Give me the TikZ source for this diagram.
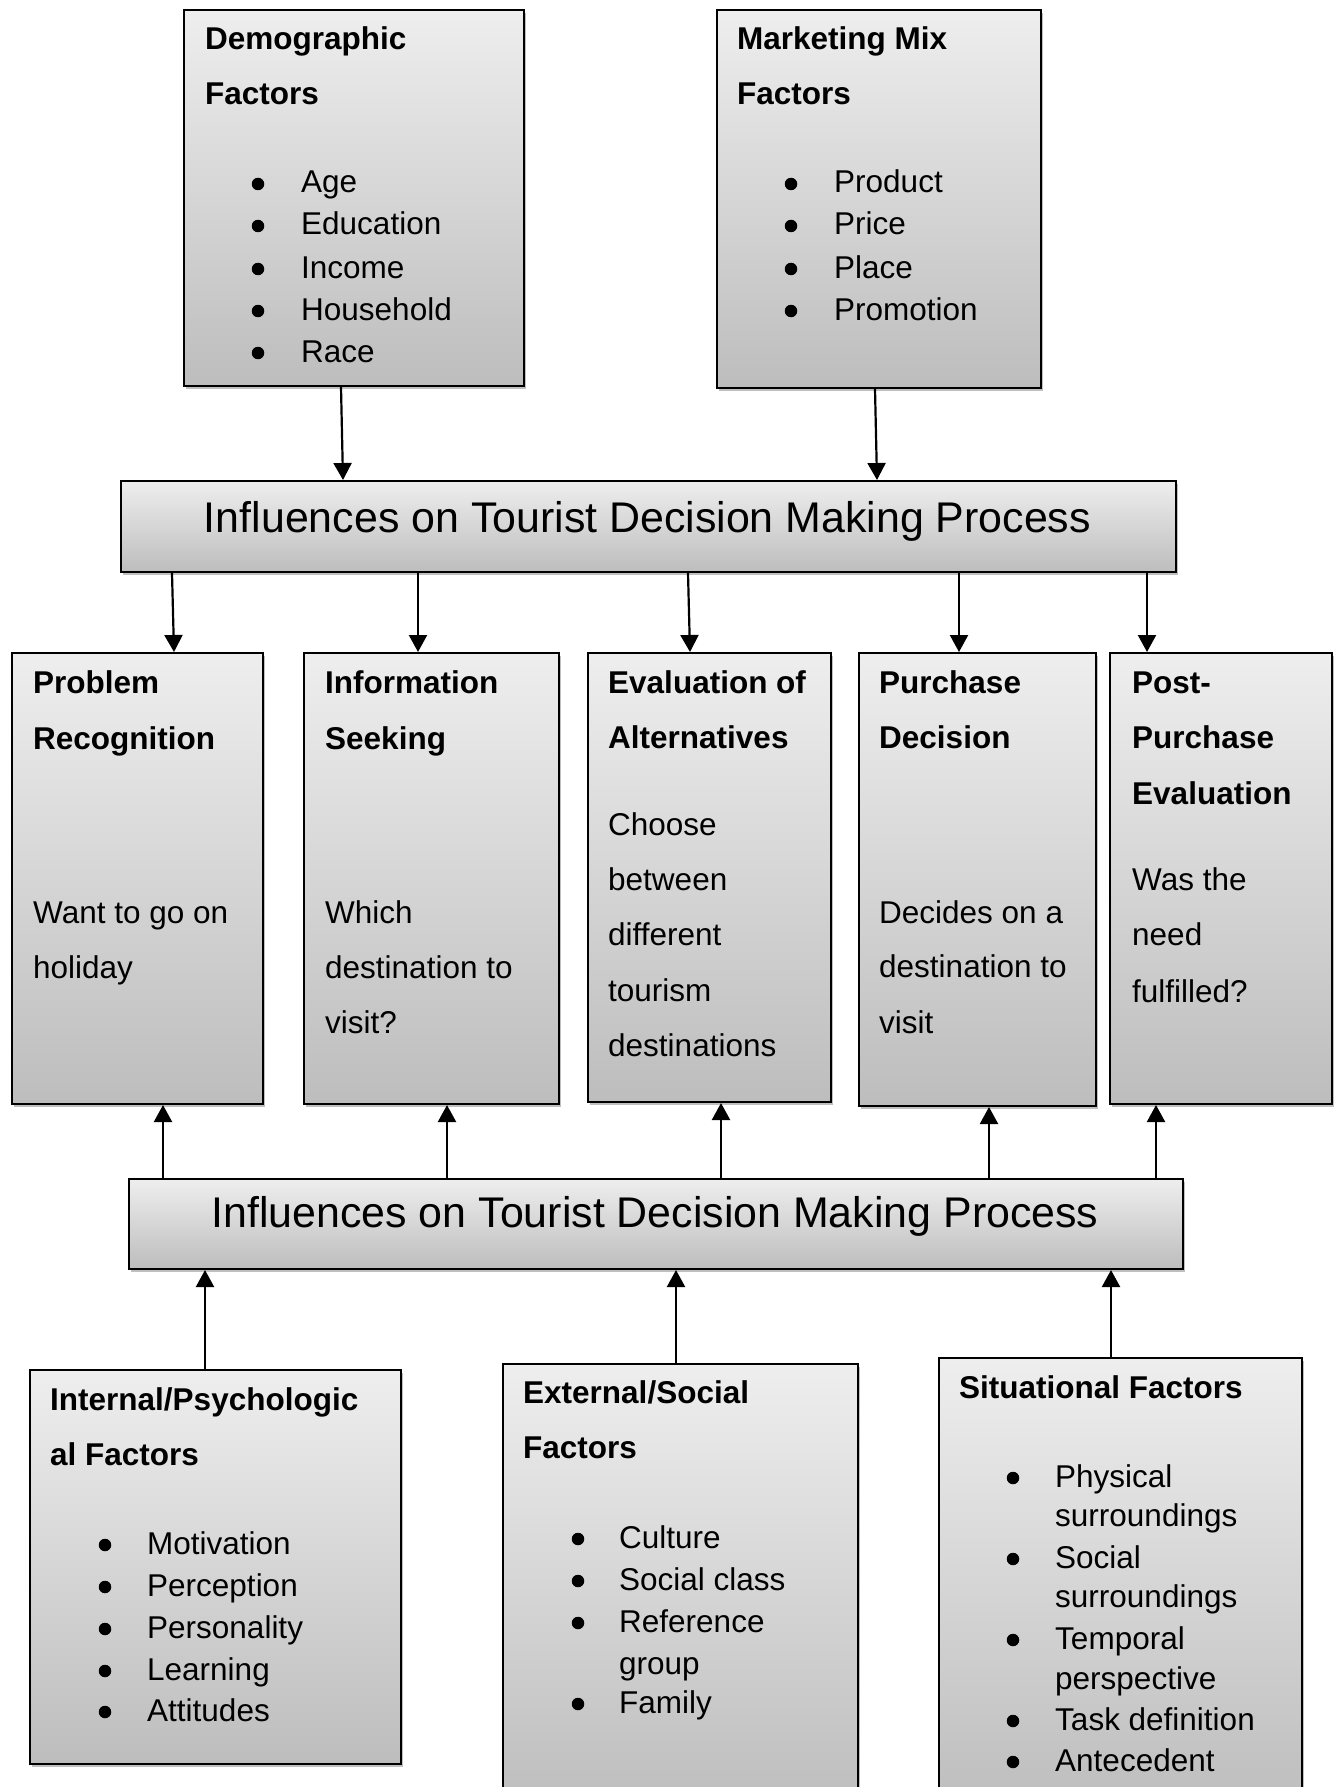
\documentclass[tikz,border=0pt]{standalone}
\usepackage{fontspec}
\setmainfont{Liberation Sans}
\usetikzlibrary{arrows.meta,shadows}

\definecolor{boxtop}{RGB}{238,238,238}
\definecolor{boxbottom}{RGB}{189,189,189}

\tikzset{
  panel/.style={rectangle, draw=black, line width=2pt, inner sep=0pt,
    anchor=north west, top color=boxtop, bottom color=boxbottom,
    drop shadow={shadow xshift=2pt, shadow yshift=-3pt, opacity=0.25, fill=black}},
  txt/.style={anchor=base west, inner sep=0pt, font=\fontsize{31.5}{36}\selectfont},
  head/.style={txt, font=\fontsize{31.5}{36}\selectfont\bfseries},
  dot/.style={circle, fill=black, inner sep=0pt, minimum size=12.5pt},
  title/.style={anchor=base, inner sep=0pt, font=\fontsize{42.9}{48}\selectfont},
  arr/.style={line width=2.2pt, -{Triangle[width=18pt,length=17pt]}}
}

% bullet item: name, bullet x, text x, baseline, text
\newcommand\bulletitem[5]{%
  \node[dot] (#1-dot) at (#2,#4-9) {};
  \node[txt] (#1) at (#3,#4) {#5};
}

\begin{document}
\begin{tikzpicture}[x=1pt,y=-1pt]
  \useasboundingbox (0,0) rectangle (1338,1787);
  \fill[white] (0,0) rectangle (1338,1787);
  \clip (0,0) rectangle (1338,1787);

  % ---------- boxes ----------
  \node[panel, minimum width=340pt, minimum height=376pt] (demo) at (183,9) {};
  \node[panel, minimum width=324pt, minimum height=378pt] (mix) at (716,9) {};
  \node[panel, minimum width=1055pt, minimum height=91pt] (infA) at (120,480) {};

  \node[panel, minimum width=251pt, minimum height=451pt] (pr) at (11,652) {};
  \node[panel, minimum width=255pt, minimum height=451pt] (is) at (303,652) {};
  \node[panel, minimum width=243pt, minimum height=449pt] (ea) at (587,652) {};
  \node[panel, minimum width=237pt, minimum height=453pt] (pd) at (858,652) {};
  \node[panel, minimum width=222pt, minimum height=451pt] (pp) at (1109,652) {};

  \node[panel, minimum width=1054pt, minimum height=90pt] (infB) at (128,1178) {};

  \node[panel, minimum width=371pt, minimum height=394pt] (intl) at (29,1369) {};
  \node[panel, minimum width=355pt, minimum height=446pt] (extl) at (502,1363) {};
  \node[panel, minimum width=363pt, minimum height=452pt] (situ) at (938,1357) {};

  % ---------- connectors ----------
  \draw[arr] (341,0 |- demo.south) -- (343,0 |- infA.north);
  \draw[arr] (875,0 |- mix.south) -- (877,0 |- infA.north);

  \draw[arr] (172,0 |- infA.south) -- (174,0 |- pr.north);
  \draw[arr] (418,0 |- infA.south) -- (418,0 |- is.north);
  \draw[arr] (688,0 |- infA.south) -- (690,0 |- ea.north);
  \draw[arr] (959,0 |- infA.south) -- (959,0 |- pd.north);
  \draw[arr] (1147,0 |- infA.south) -- (1147,0 |- pp.north);

  \draw[arr] (163,0 |- infB.north) -- (163,0 |- pr.south);
  \draw[arr] (447,0 |- infB.north) -- (447,0 |- is.south);
  \draw[arr] (721,0 |- infB.north) -- (721,0 |- ea.south);
  \draw[arr] (989,0 |- infB.north) -- (989,0 |- pd.south);
  \draw[arr] (1156,0 |- infB.north) -- (1156,0 |- pp.south);

  \draw[arr] (205,0 |- intl.north) -- (205,0 |- infB.south);
  \draw[arr] (676,0 |- extl.north) -- (676,0 |- infB.south);
  \draw[arr] (1111,0 |- situ.north) -- (1111,0 |- infB.south);

  % ---------- titles ----------
  \node[title] (infA-text) at (647.5,532) {Influences on Tourist Decision Making Process};
  \node[title] (infB-text) at (655,1227) {Influences on Tourist Decision Making Process};

  % ---------- demographic factors ----------
  \node[head] (demo-h1) at (205,50) {Demographic};
  \node[head] (demo-h2) at (205,105) {Factors};
  \bulletitem{demo-1}{258}{301}{193}{Age}
  \bulletitem{demo-2}{258}{301}{235}{Education}
  \bulletitem{demo-3}{258}{301}{278}{Income}
  \bulletitem{demo-4}{258}{301}{320}{Household}
  \bulletitem{demo-5}{258}{301}{362}{Race}

  % ---------- marketing mix ----------
  \node[head] (mix-h1) at (737,50) {Marketing Mix};
  \node[head] (mix-h2) at (737,105) {Factors};
  \bulletitem{mix-1}{791}{834}{193}{Product}
  \bulletitem{mix-2}{791}{834}{235}{Price}
  \bulletitem{mix-3}{791}{834}{278}{Place}
  \bulletitem{mix-4}{791}{834}{320}{Promotion}

  % ---------- process stages ----------
  \node[head] (pr-h1) at (33,693) {Problem};
  \node[head] (pr-h2) at (33,749) {Recognition};
  \node[txt] (pr-t1) at (33,923) {Want to go on};
  \node[txt] (pr-t2) at (33,978) {holiday};

  \node[head] (is-h1) at (325,693) {Information};
  \node[head] (is-h2) at (325,749) {Seeking};
  \node[txt] (is-t1) at (325,923) {Which};
  \node[txt] (is-t2) at (325,978) {destination to};
  \node[txt] (is-t3) at (325,1033) {visit?};

  \node[head] (ea-h1) at (608,693) {Evaluation of};
  \node[head] (ea-h2) at (608,748) {Alternatives};
  \node[txt] (ea-t1) at (608,835) {Choose};
  \node[txt] (ea-t2) at (608,890) {between};
  \node[txt] (ea-t3) at (608,945) {different};
  \node[txt] (ea-t4) at (608,1001) {tourism};
  \node[txt] (ea-t5) at (608,1056) {destinations};

  \node[head] (pd-h1) at (879,693) {Purchase};
  \node[head] (pd-h2) at (879,748) {Decision};
  \node[txt] (pd-t1) at (879,923) {Decides on a};
  \node[txt] (pd-t2) at (879,977) {destination to};
  \node[txt] (pd-t3) at (879,1033) {visit};

  \node[head] (pp-h1) at (1132,693) {Post-};
  \node[head] (pp-h2) at (1132,748) {Purchase};
  \node[head] (pp-h3) at (1132,804) {Evaluation};
  \node[txt] (pp-t1) at (1132,890) {Was the};
  \node[txt] (pp-t2) at (1132,945) {need};
  \node[txt] (pp-t3) at (1132,1002) {fulfilled?};

  % ---------- internal / psychological ----------
  \node[head] (intl-h1) at (50,1410) {Internal/Psychologic};
  \node[head] (intl-h2) at (50,1465) {al Factors};
  \bulletitem{intl-1}{105}{147}{1554}{Motivation}
  \bulletitem{intl-2}{105}{147}{1596}{Perception}
  \bulletitem{intl-3}{105}{147}{1638}{Personality}
  \bulletitem{intl-4}{105}{147}{1680}{Learning}
  \bulletitem{intl-5}{105}{147}{1721}{Attitudes}

  % ---------- external / social ----------
  \node[head] (extl-h1) at (523,1403) {External/Social};
  \node[head] (extl-h2) at (523,1458) {Factors};
  \bulletitem{extl-1}{578}{619}{1548}{Culture}
  \bulletitem{extl-2}{578}{619}{1590}{Social class}
  \bulletitem{extl-3}{578}{619}{1632}{Reference}
  \node[txt] (extl-3b) at (619,1674) {group};
  \bulletitem{extl-4}{578}{619}{1713}{Family}

  % ---------- situational ----------
  \node[head] (situ-h1) at (959,1398) {Situational Factors};
  \bulletitem{situ-1}{1013}{1055}{1487}{Physical}
  \node[txt] (situ-1b) at (1055,1526) {surroundings};
  \bulletitem{situ-2}{1013}{1055}{1568}{Social}
  \node[txt] (situ-2b) at (1055,1607) {surroundings};
  \bulletitem{situ-3}{1013}{1055}{1649}{Temporal}
  \node[txt] (situ-3b) at (1055,1689) {perspective};
  \bulletitem{situ-4}{1013}{1055}{1730}{Task definition}
  \bulletitem{situ-5}{1013}{1055}{1771}{Antecedent}
\end{tikzpicture}
\end{document}
